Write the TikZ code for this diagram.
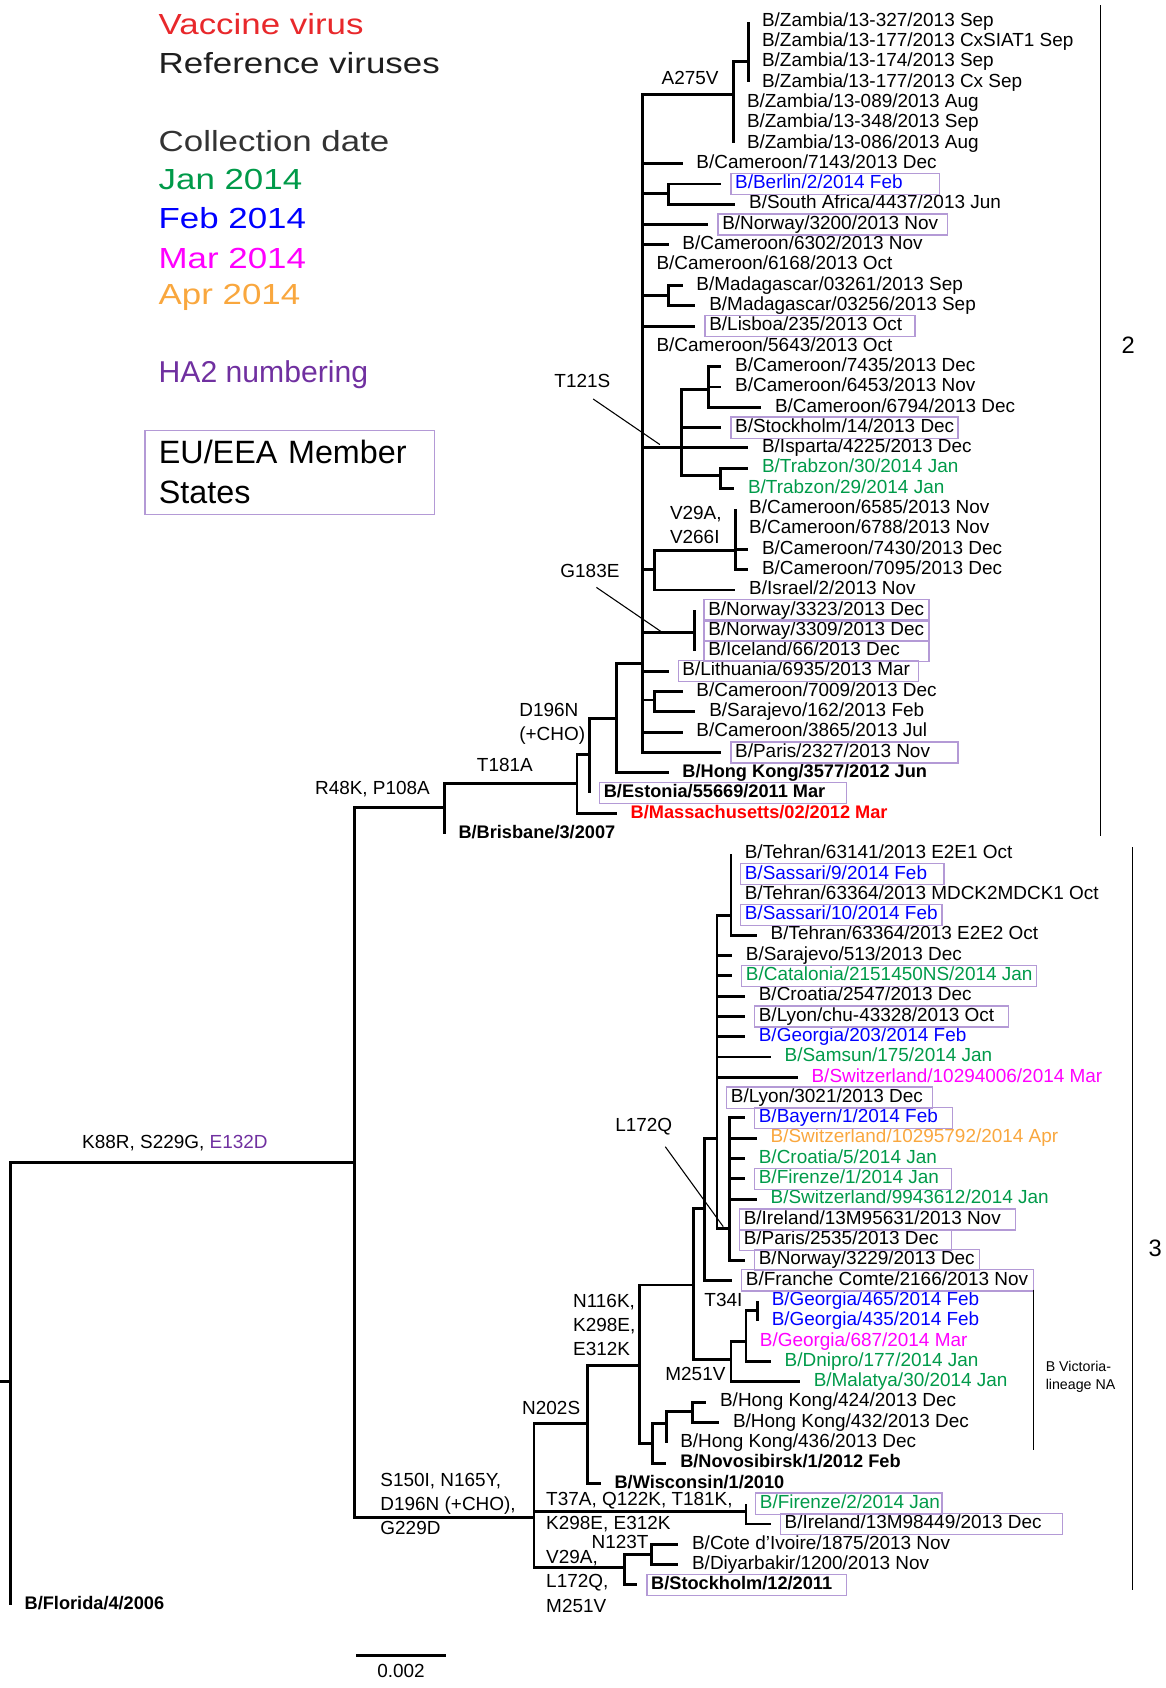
\documentclass[tikz,border=0pt]{standalone}
\usepackage{fontspec}
\setmainfont{Liberation Sans}
\newfontfamily\legfont[FakeStretch=1.2]{Liberation Sans}
\usetikzlibrary{positioning}
\definecolor{mVac}{HTML}{E8282B}
\definecolor{mMass}{HTML}{FF0000}
\definecolor{mJan}{HTML}{009A49}
\definecolor{mFeb}{HTML}{0000FF}
\definecolor{mMar}{HTML}{FF00FF}
\definecolor{mApr}{HTML}{F9A73E}
\definecolor{mHA}{HTML}{7030A0}
\definecolor{mBox}{HTML}{B49AD6}
\definecolor{mDate}{HTML}{333333}
% row height of the leaf labels
\newcommand{\ry}[1]{20+(#1-1)*18.86}

\begin{document}
\begin{tikzpicture}[x=0.5pt,y=-0.5pt,
    br/.style={line width=1.35pt},
    ptr/.style={line width=0.5pt},
    lf/.style={anchor=west,inner xsep=6.25pt,inner ysep=0.3pt,text height=6.6pt,text depth=2.2pt,font=\fontsize{8.8}{10}\selectfont},
    bl/.style={lf,font=\fontsize{8.45}{10}\selectfont\bfseries},
    eu/.style={draw=mBox,line width=0.6pt},
    mut/.style={inner sep=1pt,align=left,font=\fontsize{8.8}{11.25}\selectfont},
    lg/.style={anchor=west,inner sep=0pt,font=\legfont\fontsize{13.5}{16}\selectfont}]
  \useasboundingbox (0,0) rectangle (1083,1568);

  % legend
  \node[lg,text=mVac] (lgvac) at (147,22) {Vaccine virus};
  \node[lg,text=black!88] (lgref) at (147,59) {Reference viruses};
  \node[lg,text=mDate] (lgdate) at (147,131) {Collection date};
  \node[lg,text=mJan] (lgjan) at (147,167) {Jan 2014};
  \node[lg,text=mFeb] (lgfeb) at (147,203) {Feb 2014};
  \node[lg,text=mMar] (lgmar) at (147,240) {Mar 2014};
  \node[lg,text=mApr] (lgapr) at (147,276) {Apr 2014};
  \node[lg,text=mHA,font=\fontsize{14}{16}\selectfont] (lgha) at (147,348) {HA2 numbering};
  \node[eu,anchor=north west,minimum height=39pt,inner xsep=6.5pt,text width=121.5pt,align=left,font=\fontsize{15}{18.5}\selectfont] (lgeu) at (134,399) {EU/EEA Member\\States};

  % internal nodes
  \coordinate (stub) at (0,1283);
  \coordinate (root) at (10,1283);
  \coordinate (nK) at (329,1080);
  \coordinate (nR) at (413,750);
  \coordinate (nT) at (536,728);
  \coordinate (nD) at (548,701);
  \coordinate (nE) at (573,667);
  \coordinate (nC2) at (597,616);
  \coordinate (nA) at (681,88);
  \coordinate (nZ) at (695,57);
  \coordinate (nBer) at (621,180);
  \coordinate (nMad) at (621,274.6);
  \coordinate (nT121) at (633,416);
  \coordinate (nCam3) at (658,362);
  \coordinate (nTrab) at (669.5,442);
  \coordinate (nV29) at (608,529.4);
  \coordinate (nV29b) at (683,511);
  \coordinate (nG183) at (645,587.7);
  \coordinate (nCS) at (608,650.2);
  \coordinate (nS) at (496,1410);
  \coordinate (nN202) at (546,1322);
  \coordinate (nN116) at (594,1268);
  \coordinate (nF) at (644,1193.6);
  \coordinate (nG) at (654,1122.3);
  \coordinate (nH) at (666,1057.3);
  \coordinate (nTeh) at (679,850);
  \coordinate (nL172) at (678,1141);
  \coordinate (nM251) at (679,1263);
  \coordinate (nX) at (693,1246);
  \coordinate (nT34) at (704,1217);
  \coordinate (nHK) at (606,1340.6);
  \coordinate (nHK2) at (619,1322);
  \coordinate (nHK3) at (643,1311);
  \coordinate (nT37) at (693,1404);
  \coordinate (nV29c) at (580.5,1456);
  \coordinate (nN123) at (605.4,1443.6);

  % leaves
  \node[lf] (zamA) at (695,{\ry{1}}) {B/Zambia/13-327/2013 Sep};
  \node[lf] (zamB) at (695,{\ry{2}}) {B/Zambia/13-177/2013 CxSIAT1 Sep};
  \node[lf] (zamC) at (695,{\ry{3}}) {B/Zambia/13-174/2013 Sep};
  \node[lf] (zamD) at (695,{\ry{4}}) {B/Zambia/13-177/2013 Cx Sep};
  \node[lf] (zamE) at (681,{\ry{5}}) {B/Zambia/13-089/2013 Aug};
  \node[lf] (zamF) at (681,{\ry{6}}) {B/Zambia/13-348/2013 Sep};
  \node[lf] (zamG) at (681,{\ry{7}}) {B/Zambia/13-086/2013 Aug};
  \node[lf] (cam7143) at (634,{\ry{8}}) {B/Cameroon/7143/2013 Dec};
  \node[lf,text=mFeb] (berlin) at (670,{\ry{9}}) {B/Berlin/2/2014 Feb};
  \node[lf] (safrica) at (683,{\ry{10}}) {B/South Africa/4437/2013 Jun};
  \node[lf] (nor3200) at (658,{\ry{11}}) {B/Norway/3200/2013 Nov};
  \node[lf] (cam6302) at (621,{\ry{12}}) {B/Cameroon/6302/2013 Nov};
  \node[lf] (cam6168) at (597,{\ry{13}}) {B/Cameroon/6168/2013 Oct};
  \node[lf] (mad261) at (634,{\ry{14}}) {B/Madagascar/03261/2013 Sep};
  \node[lf] (mad256) at (646,{\ry{15}}) {B/Madagascar/03256/2013 Sep};
  \node[lf] (lisboa) at (646,{\ry{16}}) {B/Lisboa/235/2013 Oct};
  \node[lf] (cam5643) at (597,{\ry{17}}) {B/Cameroon/5643/2013 Oct};
  \node[lf] (cam7435) at (670,{\ry{18}}) {B/Cameroon/7435/2013 Dec};
  \node[lf] (cam6453) at (670,{\ry{19}}) {B/Cameroon/6453/2013 Nov};
  \node[lf] (cam6794) at (707,{\ry{20}}) {B/Cameroon/6794/2013 Dec};
  \node[lf] (stock14) at (670,{\ry{21}}) {B/Stockholm/14/2013 Dec};
  \node[lf] (isparta) at (695,{\ry{22}}) {B/Isparta/4225/2013 Dec};
  \node[lf,text=mJan] (trab30) at (695,{\ry{23}}) {B/Trabzon/30/2014 Jan};
  \node[lf,text=mJan] (trab29) at (682,{\ry{24}}) {B/Trabzon/29/2014 Jan};
  \node[lf] (cam6585) at (683,{\ry{25}}) {B/Cameroon/6585/2013 Nov};
  \node[lf] (cam6788) at (683,{\ry{26}}) {B/Cameroon/6788/2013 Nov};
  \node[lf] (cam7430) at (695,{\ry{27}}) {B/Cameroon/7430/2013 Dec};
  \node[lf] (cam7095) at (695,{\ry{28}}) {B/Cameroon/7095/2013 Dec};
  \node[lf] (israel) at (683,{\ry{29}}) {B/Israel/2/2013 Nov};
  \node[lf] (nor3323) at (645,{\ry{30}}) {B/Norway/3323/2013 Dec};
  \node[lf] (nor3309) at (645,{\ry{31}}) {B/Norway/3309/2013 Dec};
  \node[lf] (iceland) at (645,{\ry{32}}) {B/Iceland/66/2013 Dec};
  \node[lf] (lith) at (621,{\ry{33}}) {B/Lithuania/6935/2013 Mar};
  \node[lf] (cam7009) at (634,{\ry{34}}) {B/Cameroon/7009/2013 Dec};
  \node[lf] (sar162) at (646,{\ry{35}}) {B/Sarajevo/162/2013 Feb};
  \node[lf] (cam3865) at (634,{\ry{36}}) {B/Cameroon/3865/2013 Jul};
  \node[lf] (par2327) at (670,{\ry{37}}) {B/Paris/2327/2013 Nov};
  \node[bl] (hk3577) at (621,{\ry{38}}) {B/Hong Kong/3577/2012 Jun};
  \node[bl] (estonia) at (548,{\ry{39}}) {B/Estonia/55669/2011 Mar};
  \node[bl,text=mMass] (mass) at (573,{\ry{40}}) {B/Massachusetts/02/2012 Mar};
  \node[bl] (brisbane) at (413,{\ry{41}}) {B/Brisbane/3/2007};
  \node[lf] (tehA) at (679,{\ry{42}}) {B/Tehran/63141/2013 E2E1 Oct};
  \node[lf,text=mFeb] (sas9) at (679,{\ry{43}}) {B/Sassari/9/2014 Feb};
  \node[lf] (tehB) at (679,{\ry{44}}) {B/Tehran/63364/2013 MDCK2MDCK1 Oct};
  \node[lf,text=mFeb] (sas10) at (679,{\ry{45}}) {B/Sassari/10/2014 Feb};
  \node[lf] (tehC) at (703,{\ry{46}}) {B/Tehran/63364/2013 E2E2 Oct};
  \node[lf] (sar513) at (680,{\ry{47}}) {B/Sarajevo/513/2013 Dec};
  \node[lf,text=mJan] (catal) at (680,{\ry{48}}) {B/Catalonia/2151450NS/2014 Jan};
  \node[lf] (cro2547) at (692,{\ry{49}}) {B/Croatia/2547/2013 Dec};
  \node[lf] (lyonchu) at (692,{\ry{50}}) {B/Lyon/chu-43328/2013 Oct};
  \node[lf,text=mFeb] (geo203) at (692,{\ry{51}}) {B/Georgia/203/2014 Feb};
  \node[lf,text=mJan] (samsun) at (716,{\ry{52}}) {B/Samsun/175/2014 Jan};
  \node[lf,text=mMar] (swi294) at (741,{\ry{53}}) {B/Switzerland/10294006/2014 Mar};
  \node[lf] (lyon3021) at (666,{\ry{54}}) {B/Lyon/3021/2013 Dec};
  \node[lf,text=mFeb] (bayern) at (692,{\ry{55}}) {B/Bayern/1/2014 Feb};
  \node[lf,text=mApr] (swi792) at (703,{\ry{56}}) {B/Switzerland/10295792/2014 Apr};
  \node[lf,text=mJan] (cro5) at (692,{\ry{57}}) {B/Croatia/5/2014 Jan};
  \node[lf,text=mJan] (fir1) at (692,{\ry{58}}) {B/Firenze/1/2014 Jan};
  \node[lf,text=mJan] (swi612) at (703,{\ry{59}}) {B/Switzerland/9943612/2014 Jan};
  \node[lf] (ire631) at (678,{\ry{60}}) {B/Ireland/13M95631/2013 Nov};
  \node[lf] (par2535) at (678,{\ry{61}}) {B/Paris/2535/2013 Dec};
  \node[lf] (nor3229) at (692,{\ry{62}}) {B/Norway/3229/2013 Dec};
  \node[lf] (franche) at (680,{\ry{63}}) {B/Franche Comte/2166/2013 Nov};
  \node[lf,text=mFeb] (geo465) at (704,{\ry{64}}) {B/Georgia/465/2014 Feb};
  \node[lf,text=mFeb] (geo435) at (704,{\ry{65}}) {B/Georgia/435/2014 Feb};
  \node[lf,text=mMar] (geo687) at (693,{\ry{66}}) {B/Georgia/687/2014 Mar};
  \node[lf,text=mJan] (dnipro) at (716,{\ry{67}}) {B/Dnipro/177/2014 Jan};
  \node[lf,text=mJan] (malatya) at (743,{\ry{68}}) {B/Malatya/30/2014 Jan};
  \node[lf] (hk424) at (656,{\ry{69}}) {B/Hong Kong/424/2013 Dec};
  \node[lf] (hk432) at (668,{\ry{70}}) {B/Hong Kong/432/2013 Dec};
  \node[lf] (hk436) at (619,{\ry{71}}) {B/Hong Kong/436/2013 Dec};
  \node[bl] (novo) at (619,{\ry{72}}) {B/Novosibirsk/1/2012 Feb};
  \node[bl] (wisc) at (558,{\ry{73}}) {B/Wisconsin/1/2010};
  \node[lf,text=mJan] (fir2) at (693,{\ry{74}}) {B/Firenze/2/2014 Jan};
  \node[lf] (ire449) at (716,{\ry{75}}) {B/Ireland/13M98449/2013 Dec};
  \node[lf] (cote) at (630,{\ry{76}}) {B/Cote d’Ivoire/1875/2013 Nov};
  \node[lf] (diyar) at (630,{\ry{77}}) {B/Diyarbakir/1200/2013 Nov};
  \node[bl] (stock12) at (592,{\ry{78}}) {B/Stockholm/12/2011};
  \node[bl] (florida) at (10,{\ry{79}}) {B/Florida/4/2006};

  % branches
  \draw[br] (stub) -- (root);
  \foreach \c in {nK,florida.west} \draw[br] (root) |- (\c);
  \foreach \c in {nR,nS} \draw[br] (nK) |- (\c);
  \foreach \c in {nT,brisbane.west} \draw[br] (nR) |- (\c);
  \foreach \c in {nD,mass.west} \draw[br] (nT) |- (\c);
  \foreach \c in {nE,estonia.west} \draw[br] (nD) |- (\c);
  \foreach \c in {nC2,hk3577.west} \draw[br] (nE) |- (\c);
  \foreach \c in {nA,cam7143.west,nBer,nor3200.west,cam6302.west,cam6168.west,nMad,lisboa.west,cam5643.west,nT121,nV29,nG183,lith.west,nCS,cam3865.west,par2327.west}
    \draw[br] (nC2) |- (\c);
  \foreach \c in {nZ,zamE.west,zamF.west,zamG.west} \draw[br] (nA) |- (\c);
  \foreach \c in {zamA,zamB,zamC,zamD} \draw[br] (nZ) |- (\c.west);
  \foreach \c in {berlin,safrica} \draw[br] (nBer) |- (\c.west);
  \foreach \c in {mad261,mad256} \draw[br] (nMad) |- (\c.west);
  \foreach \c in {nCam3,stock14.west,isparta.west,nTrab} \draw[br] (nT121) |- (\c);
  \foreach \c in {cam7435,cam6453,cam6794} \draw[br] (nCam3) |- (\c.west);
  \foreach \c in {trab30,trab29} \draw[br] (nTrab) |- (\c.west);
  \foreach \c in {nV29b,israel.west} \draw[br] (nV29) |- (\c);
  \foreach \c in {cam6585,cam6788,cam7430,cam7095} \draw[br] (nV29b) |- (\c.west);
  \foreach \c in {nor3323,nor3309,iceland} \draw[br] (nG183) |- (\c.west);
  \foreach \c in {cam7009,sar162} \draw[br] (nCS) |- (\c.west);
  \foreach \c in {nN202,nT37,nV29c} \draw[br] (nS) |- (\c);
  \foreach \c in {nN116,wisc.west} \draw[br] (nN202) |- (\c);
  \foreach \c in {nF,nHK} \draw[br] (nN116) |- (\c);
  \foreach \c in {nG,nM251} \draw[br] (nF) |- (\c);
  \foreach \c in {nH,franche.west} \draw[br] (nG) |- (\c);
  \foreach \c in {nTeh,sar513.west,catal.west,cro2547.west,lyonchu.west,geo203.west,samsun.west,swi294.west,lyon3021.west,nL172}
    \draw[br] (nH) |- (\c);
  \foreach \c in {tehA,sas9,tehB,sas10,tehC} \draw[br] (nTeh) |- (\c.west);
  \foreach \c in {bayern,swi792,cro5,fir1,swi612,ire631,par2535,nor3229} \draw[br] (nL172) |- (\c.west);
  \foreach \c in {nX,malatya.west} \draw[br] (nM251) |- (\c);
  \foreach \c in {nT34,geo687.west,dnipro.west} \draw[br] (nX) |- (\c);
  \foreach \c in {geo465,geo435} \draw[br] (nT34) |- (\c.west);
  \foreach \c in {nHK2,novo.west} \draw[br] (nHK) |- (\c);
  \foreach \c in {nHK3,hk436.west} \draw[br] (nHK2) |- (\c);
  \foreach \c in {hk424,hk432} \draw[br] (nHK3) |- (\c.west);
  \foreach \c in {fir2,ire449} \draw[br] (nT37) |- (\c.west);
  \foreach \c in {nN123,stock12.west} \draw[br] (nV29c) |- (\c);
  \foreach \c in {cote,diyar} \draw[br] (nN123) |- (\c.west);

  % EU/EEA boxes
  \foreach \n/\r in {berlin/873,nor3200/880,lisboa/850,stock14/890,nor3323/863,nor3309/863,iceland/863,lith/853,par2327/890,estonia/786,sas9/877,sas10/875,catal/963,lyonchu/937,lyon3021/866,bayern/885,fir1/884,ire631/943,par2535/884,nor3229/910,franche/960,fir2/875,ire449/987,stock12/786}
    \draw[eu] ([xshift=4.5pt]\n.south west) rectangle (\n.north -| \r,0);

  % substitutions
  \node[mut] (mA275) at (641,72) {A275V};
  \node[mut] (mT121) at (541,354) {T121S};
  \node[mut,anchor=west] (mV29) at (620,488) {V29A,\\V266I};
  \node[mut] (mG183) at (548,530) {G183E};
  \node[mut,anchor=west] (mD196) at (480,672.5) {D196N\\(+CHO)};
  \node[mut] (mT181) at (469,711) {T181A};
  \node[mut] (mR48) at (346,733) {R48K, P108A};
  \node[mut,anchor=west] (mK88) at (74,1062) {K88R, S229G, \textcolor{mHA}{E132D}};
  \node[mut] (mL172) at (598,1047) {L172Q};
  \node[mut,anchor=west] (mN116) at (530,1231) {N116K,\\K298E,\\E312K};
  \node[mut,anchor=east] (mT34) at (692,1208) {T34I};
  \node[mut] (mM251) at (646,1276) {M251V};
  \node[mut] (mN202) at (512,1308) {N202S};
  \node[mut,anchor=west] (mS150) at (351,1397) {S150I, N165Y,\\D196N (+CHO),\\G229D};
  \node[mut,anchor=west] (mT37) at (505,1404.5) {T37A, Q122K, T181K,\\K298E, E312K};
  \node[mut] (mN123) at (576,1432) {N123T};
  \node[mut,anchor=west] (mV29c) at (505,1469) {V29A,\\L172Q,\\M251V};

  \coordinate (pT121) at (613,413);
  \coordinate (pG183) at (616,588);
  \coordinate (pL172) at (671.8,1139.4);
  \draw[ptr] ([xshift=5pt,yshift=-4pt]mT121.south) -- (pT121);
  \draw[ptr] ([xshift=3pt,yshift=-3.5pt]mG183.south) -- (pG183);
  \draw[ptr] ([xshift=10pt,yshift=-4pt]mL172.south) -- (pL172);

  % clades
  \draw[line width=0.6pt] (1022,5) -- (1022,777);
  \node[font=\fontsize{11}{13}\selectfont] (cl2) at (1048,321) {2};
  \draw[line width=0.6pt] (1052,787) -- (1052,1477);
  \node[font=\fontsize{11}{13}\selectfont] (cl3) at (1073,1160) {3};
  \draw[line width=0.5pt] (960,1198) -- (960,1347);
  \node[anchor=west,inner sep=0pt,align=left,font=\fontsize{6.6}{8.5}\selectfont] (bvic) at (971,1279) {B Victoria-\\lineage NA};

  % scale bar
  \coordinate (sbL) at (331,1538);
  \coordinate (sbR) at (414,1538);
  \coordinate (sbM) at (372.5,1538);
  \draw[br] (sbL) -- (sbR);
  \node[mut,below=3pt of sbM] (sblab) {0.002};
\end{tikzpicture}
\end{document}
